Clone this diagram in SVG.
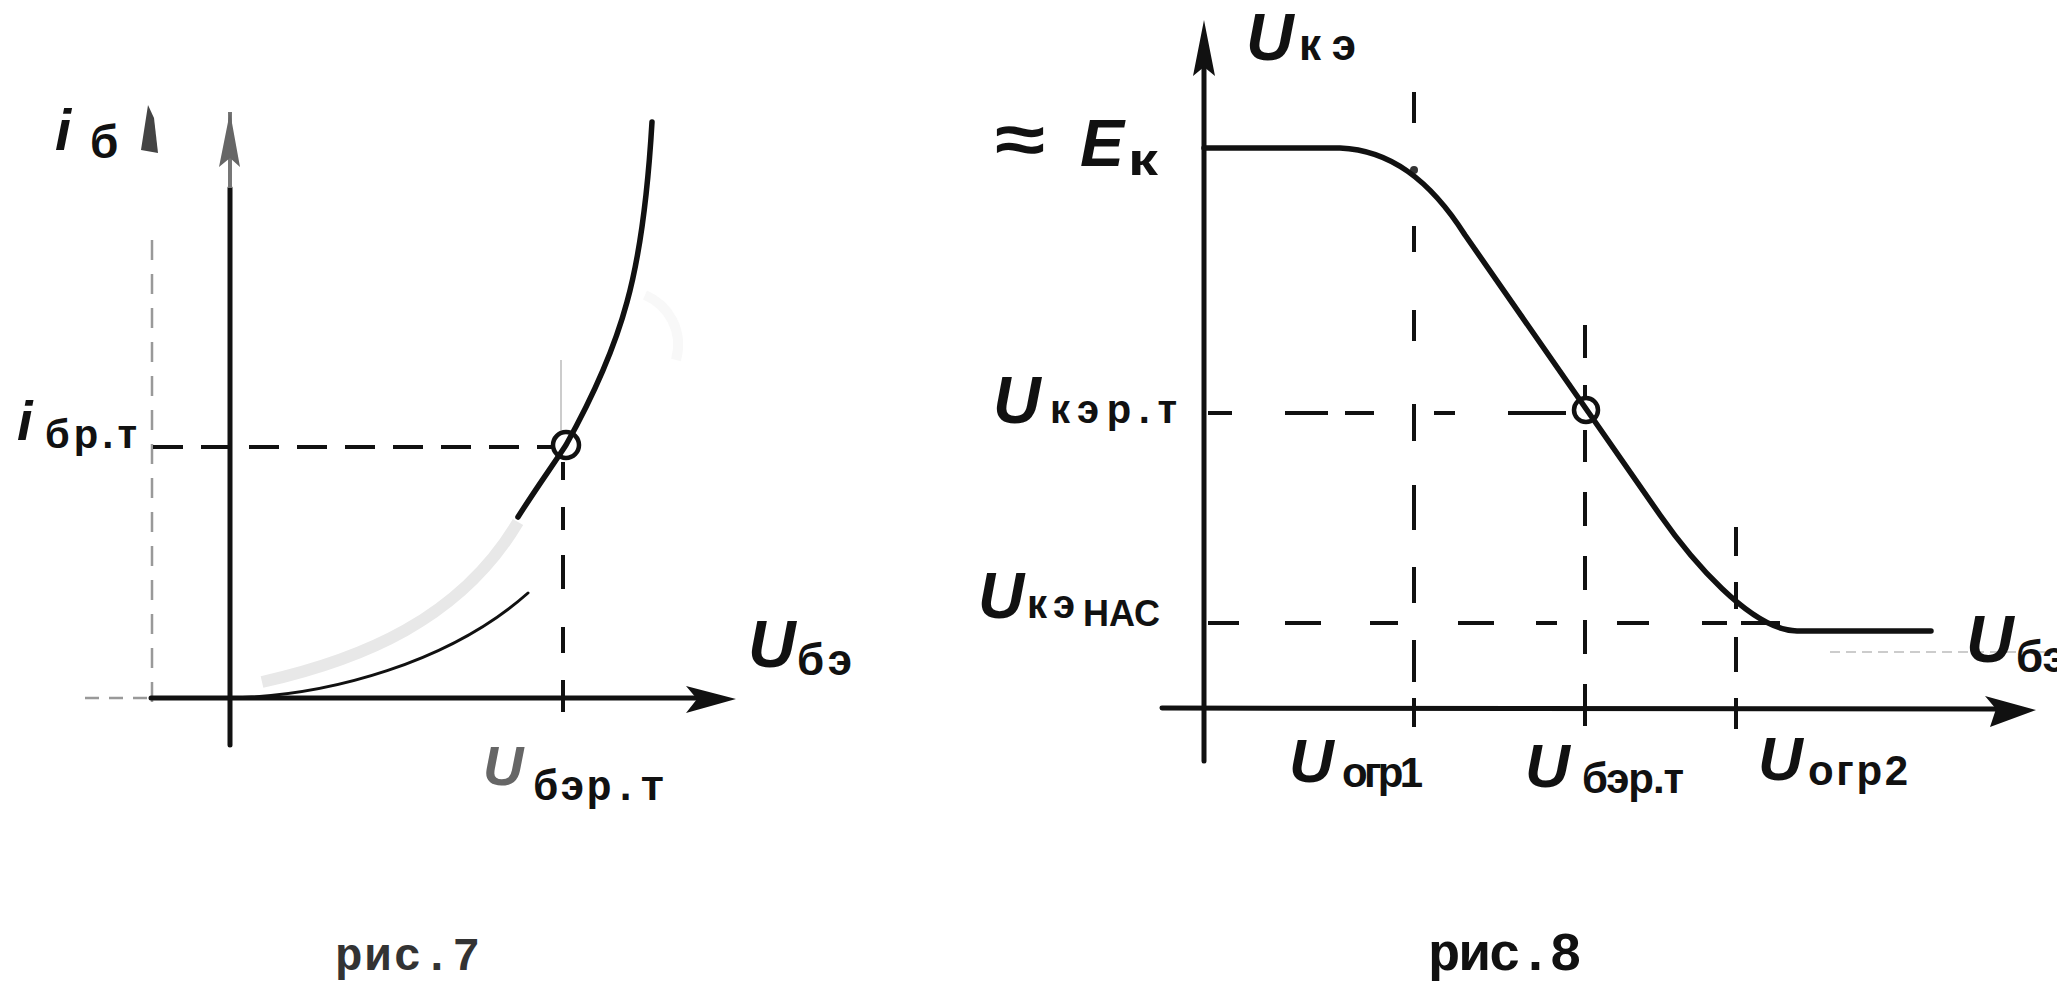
<svg xmlns="http://www.w3.org/2000/svg" width="2057" height="1002" viewBox="0 0 2057 1002">
<style>
.ax{stroke:#111;stroke-width:5;fill:none;stroke-linecap:round}
.crv{stroke:#111;stroke-width:5.5;fill:none;stroke-linecap:round;stroke-linejoin:round}
.thin{stroke:#111;stroke-width:3;fill:none;stroke-linecap:round}
.dash{stroke:#111;stroke-width:4;fill:none;stroke-linecap:butt}
.faint{stroke:#999;stroke-width:2.5;fill:none}
.hw{font-family:"Liberation Sans",sans-serif;font-style:italic;font-weight:bold;fill:#111}
.sub{font-family:"Liberation Sans",sans-serif;font-weight:bold;fill:#111}
.tw{font-family:"Liberation Mono",monospace;font-weight:bold;fill:#111}
.head{fill:#111}
</style>
<rect width="2057" height="1002" fill="#fff"/>

<!-- ===== Figure 7 ===== -->
<g id="fig7">
  <g id="fig7-axes">
    <line class="faint" x1="85" y1="698" x2="151" y2="698" stroke-dasharray="14 10"/>
    <line class="faint" x1="152" y1="240" x2="152" y2="712" stroke-dasharray="20 14"/>
    <line class="ax" x1="151" y1="698" x2="700" y2="698"/>
    <polygon class="head" points="736,699 686,686 697,699 686,713"/>
    <line class="ax" x1="230" y1="188" x2="230" y2="745"/>
    <line x1="230" y1="112" x2="230" y2="188" stroke="#777" stroke-width="4"/>
    <polygon points="230,112 219,167 230,158 240,167" fill="#666"/>
    <path d="M148,105 L141,150 L158,153 L154,118 Z" fill="#444"/>
  </g>
  <g id="fig7-connectors">
    <line class="dash" x1="153" y1="447" x2="553" y2="447" stroke-dasharray="30 18"/>
    <path class="dash" d="M563,462 V480 M563,507 V530 M563,555 V589 M563,627 V653 M563,680 V712"/>
    <line x1="561" y1="360" x2="561" y2="430" stroke="#bbb" stroke-width="1.5"/>
  </g>
  <g id="fig7-curve">
    <path d="M262,682 C360,660 460,620 518,522" stroke="#e8e8e8" stroke-width="12" fill="none"/>
    <path d="M645,295 C668,305 684,330 676,360" stroke="#f8f8f8" stroke-width="10" fill="none"/>
    <path class="thin" d="M229,698 C330,696 450,662 528,593"/>
    <path class="crv" d="M518,517 C535,490 553,465 566,445 C590,402 614,350 627,302 C640,255 648,190 652,122" stroke-width="4.5"/>
    <circle cx="566" cy="445" r="13" fill="none" stroke="#111" stroke-width="4.5"/>
  </g>
  <g id="fig7-labels">
    <text class="hw" x="55" y="150" font-size="58">i</text>
    <text class="sub" x="90" y="158" font-size="46">б</text>
    <text class="hw" x="17" y="440" font-size="56">i</text>
    <text class="sub" x="45" y="448" font-size="40" textLength="92" lengthAdjust="spacing">бр.т</text>
    <text class="hw" x="748" y="667" font-size="66">U</text>
    <text class="sub" x="797" y="675" font-size="44" textLength="55" lengthAdjust="spacing">бэ</text>
    <text class="hw" x="483" y="785" font-size="56" style="fill:#666">U</text>
    <text class="tw" x="533" y="800" font-size="42" textLength="132" lengthAdjust="spacing">бэр.т</text>
    <text class="tw" x="335" y="970" font-size="46" textLength="145" lengthAdjust="spacing" style="fill:#333">рис.7</text>
  </g>
</g>

<!-- ===== Figure 8 ===== -->
<g id="fig8">
  <g id="fig8-axes">
    <line class="ax" x1="1162" y1="708" x2="2000" y2="709"/>
    <polygon class="head" points="2036,710 1985,696 1996,709 1990,727"/>
    <line class="ax" x1="1204" y1="60" x2="1204" y2="761"/>
    <polygon class="head" points="1204,20 1193,76 1204,67 1215,76"/>
  </g>
  <g id="fig8-connectors">
    <path class="dash" d="M1414,92 V123 M1414,226 V252 M1414,310 V341 M1414,404 V441 M1414,485 V530 M1414,567 V603 M1414,640 V682 M1414,698 V727"/>
    <circle cx="1414" cy="170" r="4" fill="#333"/>
    <path class="dash" d="M1585,325 V358 M1585,385 V398 M1585,430 V462 M1585,492 V526 M1585,556 V590 M1585,620 V654 M1585,684 V726"/>
    <path class="dash" d="M1736,527 V556 M1736,582 V609 M1736,637 V672 M1736,698 V729"/>
    <path class="dash" d="M1208,413 H1232 M1285,413 H1328 M1345,413 H1374 M1434,413 H1455 M1508,413 H1566"/>
    <path class="dash" d="M1208,623 H1239 M1285,623 H1321 M1370,623 H1398 M1458,623 H1494 M1536,623 H1557 M1617,623 H1649 M1702,623 H1727 M1741,623 H1780"/>
    <line x1="1830" y1="652" x2="2057" y2="652" stroke="#ccc" stroke-width="2" stroke-dasharray="10 6"/>
  </g>
  <g id="fig8-curve">
    <path class="crv" d="M1204,148 L1340,148 C1390,150 1430,180 1465,235 L1660,515 C1690,558 1750,630 1797,631 L1931,631"/>
    <circle cx="1586" cy="410" r="12" fill="none" stroke="#111" stroke-width="4.5"/>
  </g>
  <g id="fig8-labels">
    <text class="hw" x="1246" y="60" font-size="66">U</text>
    <text class="sub" x="1299" y="60" font-size="44" textLength="57" lengthAdjust="spacing">кэ</text>
    <text class="sub" x="995" y="163" font-size="70" textLength="50" lengthAdjust="spacingAndGlyphs">≈</text>
    <text class="hw" x="1080" y="166" font-size="66">E</text>
    <text class="sub" x="1128" y="175" font-size="44" textLength="30" lengthAdjust="spacingAndGlyphs">к</text>
    <text class="hw" x="993" y="423" font-size="66">U</text>
    <text class="sub" x="1050" y="423" font-size="40" textLength="127" lengthAdjust="spacing">кэр.т</text>
    <text class="hw" x="978" y="618" font-size="64">U</text>
    <text class="sub" x="1027" y="618" font-size="40" textLength="48" lengthAdjust="spacing">кэ</text>
    <text class="sub" x="1083" y="626" font-size="36" textLength="77" lengthAdjust="spacing">НАС</text>
    <text class="hw" x="1966" y="662" font-size="66">U</text>
    <text class="sub" x="2016" y="672" font-size="44">бэ</text>
    <text class="hw" x="1289" y="782" font-size="62">U</text>
    <text class="sub" x="1342" y="787" font-size="42" textLength="81" lengthAdjust="spacing">огр1</text>
    <text class="hw" x="1525" y="787" font-size="62">U</text>
    <text class="sub" x="1582" y="793" font-size="42" textLength="102" lengthAdjust="spacing">бэр.т</text>
    <text class="hw" x="1758" y="780" font-size="62">U</text>
    <text class="sub" x="1808" y="785" font-size="42" textLength="100" lengthAdjust="spacing">огр2</text>
    <text class="tw" x="1428" y="970" font-size="54" textLength="154" lengthAdjust="spacing">рис.8</text>
  </g>
</g>
</svg>
